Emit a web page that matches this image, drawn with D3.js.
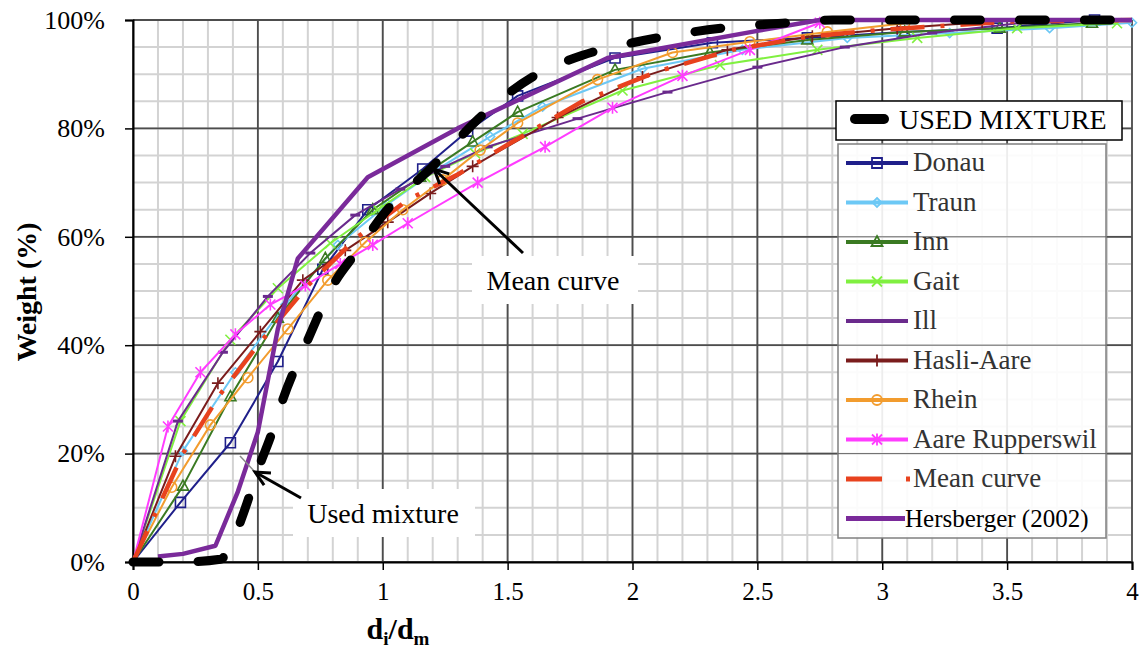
<!DOCTYPE html>
<html>
<head>
<meta charset="utf-8">
<script src="https://cdn.jsdelivr.net/npm/d3@7"></script>
</head>
<body style="margin:0;background:#fff">
<script>
// values: x = di/dm, y = weight passing (%)
const xTicks = [0, 0.5, 1, 1.5, 2, 2.5, 3, 3.5, 4];
const yTicks = [0, 20, 40, 60, 80, 100];

const donauX = [0, 0.19, 0.39, 0.58, 0.76, 0.94, 1.16, 1.34, 1.54, 1.93, 2.32, 2.7, 3.08, 3.46, 3.85];
const donauY = [0, 11, 22, 37, 54, 65, 72.5, 79.5, 86, 93, 95.8, 96.7, 97.8, 98.5, 100];

const traunX = [0, 0.2, 0.41, 0.61, 0.82, 1.02, 1.22, 1.43, 1.64, 2.04, 2.44, 2.86, 3.27, 3.67, 4];
const traunY = [0, 20.5, 35, 47.5, 58.5, 66, 72.5, 78.5, 84, 91, 94.5, 96.7, 97.6, 98.5, 99.5];

const innX = [0, 0.2, 0.39, 0.58, 0.77, 0.96, 1.15, 1.36, 1.54, 1.93, 2.31, 2.7, 3.09, 3.47, 3.84];
const innY = [0, 14, 30.5, 45, 56, 65, 71, 77.5, 83, 90.8, 94, 96.3, 97.8, 98.5, 99.4];

const gaitX = [0, 0.19, 0.39, 0.58, 0.79, 0.98, 1.17, 1.37, 1.56, 1.96, 2.35, 2.74, 3.14, 3.54, 3.94];
const gaitY = [0, 26, 41, 50.5, 58.8, 65, 71, 75.4, 79, 87, 91.7, 94.5, 96.7, 98.5, 99.4];

const illX = [0, 0.18, 0.36, 0.54, 0.71, 0.89, 1.07, 1.25, 1.42, 1.78, 2.14, 2.5, 2.85, 3.2, 3.56];
const illY = [0, 26, 38.7, 49, 57, 64, 68.8, 73, 76.6, 81.8, 86.7, 91.3, 95, 97.6, 99.5];

const hasliX = [0, 0.17, 0.34, 0.51, 0.68, 0.85, 1.02, 1.19, 1.36, 1.7, 2.04, 2.38, 2.72, 3.06, 3.4];
const hasliY = [0, 19.5, 33, 42.5, 52, 57.5, 62.7, 68, 73, 82, 89.5, 94.5, 97, 98.5, 99.6];

const rheinX = [0, 0.155, 0.31, 0.46, 0.62, 0.78, 0.93, 1.08, 1.24, 1.39, 1.54, 1.86, 2.16, 2.47, 2.78, 3.09];
const rheinY = [0, 13.8, 25.3, 34, 43, 52, 59, 65, 70.5, 76, 81, 89, 94, 96, 97.8, 99.4];

const aareX = [0, 0.14, 0.27, 0.41, 0.55, 0.69, 0.83, 0.96, 1.1, 1.38, 1.65, 1.92, 2.2, 2.47, 2.75];
const aareY = [0, 25, 35, 42, 47.5, 51, 55, 58.5, 62.5, 70, 76.6, 83.8, 89.7, 94.5, 99.5];

const meanX = [0, 0.1, 0.2, 0.35, 0.5, 0.7, 0.9, 1.1, 1.3, 1.5, 1.8, 2.1, 2.4, 2.7, 3.0, 3.5, 4];
const meanY = [0, 10, 20, 31, 40, 51, 60, 66.8, 71.5, 77, 85, 90.5, 94.5, 96.9, 98.2, 99.7, 100];

const hersX = [0.1, 0.2, 0.33, 0.42, 0.5, 0.58, 0.66, 0.94, 1.3, 1.9, 2.5, 2.75, 3, 4];
const hersY = [1, 1.5, 3, 13, 24, 43, 56, 71, 80, 93, 98, 100, 100, 100];

const usedX = [0, 0.2, 0.35, 0.4, 0.45, 0.5, 0.55, 0.6, 0.7, 0.8, 0.9, 1.0, 1.2, 1.4, 1.6, 1.8, 2.0, 2.2, 2.4, 2.6, 2.8, 3, 3.5, 4];
const usedY = [0, 0, 0.5, 4, 10, 17, 23, 30, 41, 51, 57.5, 64, 73, 82.5, 89.5, 93.5, 95.8, 97.5, 98.7, 99.4, 100, 100, 100, 100];

const seriesNames = ["Donau", "Traun", "Inn", "Gait", "Ill", "Hasli-Aare", "Rhein", "Aare Rupperswil", "Mean curve", "Hersberger (2002)"];

// styling
const style = {
  "Donau":           {xs: donauX, ys: donauY, color: "#1f1f8a", w: 2,   marker: "square"},
  "Traun":           {xs: traunX, ys: traunY, color: "#6cc8f5", w: 2,   marker: "diamond"},
  "Inn":             {xs: innX,   ys: innY,   color: "#3a7a22", w: 2,   marker: "triangle"},
  "Gait":            {xs: gaitX,  ys: gaitY,  color: "#80f040", w: 2,   marker: "x"},
  "Ill":             {xs: illX,   ys: illY,   color: "#6a2a8c", w: 2,   marker: "dash"},
  "Hasli-Aare":      {xs: hasliX, ys: hasliY, color: "#7a1c1c", w: 2,   marker: "plus"},
  "Rhein":           {xs: rheinX, ys: rheinY, color: "#f29c2e", w: 2,   marker: "circle"},
  "Aare Rupperswil": {xs: aareX,  ys: aareY,  color: "#ff3cff", w: 2,   marker: "asterisk"},
  "Mean curve":      {xs: meanX,  ys: meanY,  color: "#e8421e", w: 4.5, marker: null, dash: "34,16,4,16"},
  "Hersberger (2002)": {xs: hersX, ys: hersY, color: "#7a2a9a", w: 4.5, marker: null}
};

const markerPath = {
  square:   "M-5,-5h10v10h-10z",
  diamond:  "M0,-4.5L4.5,0L0,4.5L-4.5,0Z",
  triangle: "M0,-6L5.5,4H-5.5Z",
  x:        "M-5,-5L5,5M5,-5L-5,5",
  dash:     "M-5,0H5",
  plus:     "M-6,0H6M0,-6V6",
  circle:   "M5,0A5,5 0 1,1 -5,0A5,5 0 1,1 5,0",
  asterisk: "M-5,-5L5,5M5,-5L-5,5M0,-6V6"
};

const SERIF = "Liberation Serif";
const W = 1145, H = 651;
const svg = d3.select("body").append("svg")
    .attr("width", W)
    .attr("height", H)
    .attr("font-family", SERIF);

const x = d3.scaleLinear().domain([0, 4]).range([133, 1132]);
const y = d3.scaleLinear().domain([0, 100]).range([562, 20]);

// grid
const grid = svg.append("g");
grid.selectAll(".vminor").data(d3.range(0, 40.5, 1).map(d => d / 10))
  .join("line")
    .attr("x1", d => x(d)).attr("x2", d => x(d))
    .attr("y1", y(0)).attr("y2", y(100))
    .attr("stroke", "#d3d3d3").attr("stroke-width", 2);
grid.selectAll(".hminor").data(d3.range(0, 101, 5))
  .join("line")
    .attr("x1", x(0)).attr("x2", x(4))
    .attr("y1", d => y(d)).attr("y2", d => y(d))
    .attr("stroke", "#d3d3d3").attr("stroke-width", 2);
grid.selectAll(".vmajor").data(xTicks)
  .join("line")
    .attr("x1", d => x(d)).attr("x2", d => x(d))
    .attr("y1", y(0)).attr("y2", y(100))
    .attr("stroke", "#4d4d4d").attr("stroke-width", 1.8);
grid.selectAll(".hmajor").data(yTicks)
  .join("line")
    .attr("x1", x(0)).attr("x2", x(4))
    .attr("y1", d => y(d)).attr("y2", d => y(d))
    .attr("stroke", "#4d4d4d").attr("stroke-width", 1.8);

// axes
const xAxis = svg.append("g")
    .attr("transform", `translate(0,${y(0)})`)
    .call(d3.axisBottom(x).tickValues(xTicks).tickSize(8).tickPadding(12)
      .tickFormat(d => d3.format("")(d)));
const yAxis = svg.append("g")
    .attr("transform", `translate(${x(0)},0)`)
    .call(d3.axisLeft(y).tickValues(yTicks).tickSize(8).tickPadding(20)
      .tickFormat(d => d + "%"));
[xAxis, yAxis].forEach(a => {
  a.attr("font-family", SERIF);
  a.select(".domain").attr("stroke", "#000").attr("stroke-width", 2);
  a.selectAll(".tick line").attr("stroke", "#000").attr("stroke-width", 1.5);
  a.selectAll("text").attr("fill", "#000").attr("font-family", SERIF);
});
xAxis.selectAll("text").attr("font-size", 25);
yAxis.selectAll("text").attr("font-size", 26);

// axis titles
svg.append("text")
    .attr("transform", "translate(36,292) rotate(-90)")
    .attr("text-anchor", "middle")
    .attr("font-family", SERIF)
    .attr("font-size", 28).attr("font-weight", "bold")
    .text("Weight (%)");

const xt = svg.append("text")
    .attr("x", 398).attr("y", 639)
    .attr("text-anchor", "middle")
    .attr("font-family", SERIF)
    .attr("font-size", 30).attr("font-weight", "bold");
xt.append("tspan").text("d");
xt.append("tspan").attr("font-size", 19).attr("dy", 6).text("i");
xt.append("tspan").attr("dy", -6).text("/d");
xt.append("tspan").attr("font-size", 19).attr("dy", 6).text("m");

// series
const line = d3.line().x(d => x(d[0])).y(d => y(d[1]));
const plot = svg.append("g");

seriesNames.forEach(name => {
  const s = style[name];
  const pts = s.xs.map((v, i) => [v, s.ys[i]]);
  plot.append("path")
      .attr("d", line(pts))
      .attr("fill", "none")
      .attr("stroke", s.color)
      .attr("stroke-width", s.w)
      .attr("stroke-dasharray", s.dash || null)
      .attr("stroke-linejoin", "round");
  if (s.marker) {
    plot.append("g").selectAll("path")
      .data(pts.slice(1))
      .join("path")
        .attr("transform", d => `translate(${x(d[0])},${y(d[1])})`)
        .attr("d", markerPath[s.marker])
        .attr("fill", "none")
        .attr("stroke", s.color)
        .attr("stroke-width", s.marker === "dash" ? 3 : 1.6);
  }
});

// used mixture (thick black dashes)
plot.append("path")
    .attr("d", d3.line().curve(d3.curveMonotoneX).x(d => x(d[0])).y(d => y(d[1]))(usedX.map((v, i) => [v, usedY[i]])))
    .attr("fill", "none")
    .attr("stroke", "#000")
    .attr("stroke-width", 9)
    .attr("stroke-linecap", "round")
    .attr("stroke-dasharray", "26,39");

// annotations
const arrow = (x1, y1, x2, y2) => {
  const g = svg.append("g").attr("stroke", "#000").attr("stroke-width", 3).attr("fill", "none");
  g.append("line").attr("x1", x1).attr("y1", y1).attr("x2", x2).attr("y2", y2);
  const a = Math.atan2(y1 - y2, x1 - x2);
  const L = 16, sp = 0.45;
  g.append("path").attr("d",
    `M${x2 + L * Math.cos(a + sp)},${y2 + L * Math.sin(a + sp)}L${x2},${y2}L${x2 + L * Math.cos(a - sp)},${y2 + L * Math.sin(a - sp)}`);
};

svg.append("rect").attr("x", 472).attr("y", 256).attr("width", 166).attr("height", 48).attr("fill", "#fff");
svg.append("text").attr("x", 553).attr("y", 290).attr("text-anchor", "middle")
    .attr("font-family", SERIF).attr("font-size", 28).text("Mean curve");
arrow(523, 253, 434, 169);

svg.append("rect").attr("x", 293).attr("y", 489).attr("width", 182).attr("height", 48).attr("fill", "#fff");
svg.append("text").attr("x", 383).attr("y", 523).attr("text-anchor", "middle")
    .attr("font-family", SERIF).attr("font-size", 28).text("Used mixture");
svg.append("line").attr("x1", 255).attr("y1", 472).attr("x2", 240).attr("y2", 456)
    .attr("stroke", "#888").attr("stroke-width", 1.5);
arrow(301, 498, 255, 472);

// legend: used mixture box
const lg1 = svg.append("g");
lg1.append("rect").attr("x", 836).attr("y", 101).attr("width", 286).attr("height", 39)
    .attr("fill", "#fff").attr("stroke", "#000").attr("stroke-width", 1.5);
lg1.append("line").attr("x1", 855).attr("x2", 884).attr("y1", 119).attr("y2", 119)
    .attr("stroke", "#000").attr("stroke-width", 10).attr("stroke-linecap", "round");
lg1.append("text").attr("x", 899).attr("y", 129)
    .attr("font-family", SERIF).attr("font-size", 28).text("USED MIXTURE");

// legend: series box
const lg = svg.append("g");
lg.append("rect").attr("x", 838).attr("y", 144).attr("width", 268).attr("height", 394)
    .attr("fill", "#fff").attr("fill-opacity", 0.9)
    .attr("stroke", "#7f7f7f").attr("stroke-width", 1.5);
// the major horizontal grid shows through the legend
lg.selectAll(".gl").data(yTicks.filter(d => y(d) > 144 && y(d) < 538))
  .join("line")
    .attr("x1", 838).attr("x2", 1106)
    .attr("y1", d => y(d)).attr("y2", d => y(d))
    .attr("stroke", "#666").attr("stroke-width", 1);

const item = lg.selectAll(".item").data(seriesNames)
  .join("g")
    .attr("transform", (d, i) => `translate(846,${163 + i * 39.5})`);
item.append("line")
    .attr("x1", 0).attr("x2", d => d === "Mean curve" ? 36 : (d === "Hersberger (2002)" ? 59 : 62))
    .attr("stroke", d => style[d].color)
    .attr("stroke-width", d => style[d].w < 3 ? 4 : 5);
item.filter(d => d === "Mean curve").append("line")
    .attr("x1", 60).attr("x2", 64)
    .attr("stroke", d => style[d].color).attr("stroke-width", 5);
item.filter(d => style[d].marker).append("path")
    .attr("transform", "translate(31,0)")
    .attr("d", d => markerPath[style[d].marker])
    .attr("fill", "none")
    .attr("stroke", d => style[d].color)
    .attr("stroke-width", 1.8);
item.append("text")
    .attr("x", d => d === "Hersberger (2002)" ? 59 : 67)
    .attr("y", 8)
    .attr("font-family", SERIF)
    .attr("font-size", d => d === "Hersberger (2002)" ? 25 : 27)
    .attr("fill", d => d === "Hersberger (2002)" ? "#000" : "#333")
    .text(d => d);
</script>
</body>
</html>
